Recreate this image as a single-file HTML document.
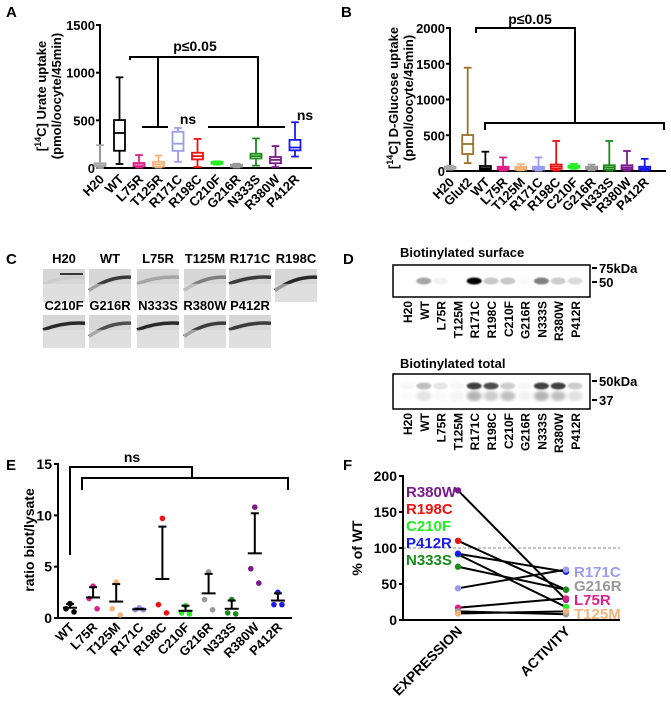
<!DOCTYPE html>
<html><head><meta charset="utf-8"><style>
html,body{margin:0;padding:0;background:#fff;}
svg{display:block;font-family:"Liberation Sans",Arial,sans-serif;font-weight:bold;}
</style></head><body>
<svg id="fig" width="671" height="707" viewBox="0 0 671 707" xmlns="http://www.w3.org/2000/svg">
<defs>
<filter id="blur1"><feGaussianBlur stdDeviation="1.6"/></filter>
<filter id="blur2"><feGaussianBlur stdDeviation="0.8"/></filter>
</defs>
</svg>
<script>
// ---------- Panel A data ----------
const aCats = ["H20","WT","L75R","T125R","R171C","R198C","C210F","G216R","N333S","R380W","P412R"];
const aMin = [0,42,5,5,65,10,35,5,25,10,120];
const aQ1  = [20,181,20,15,180,90,45,15,100,50,185];
const aMed = [30,367,45,40,255,125,55,25,125,85,215];
const aQ3  = [50,503,52,65,380,160,65,35,150,115,295];
const aMax = [240,951,136,130,420,305,70,45,310,230,480];
const aTicks = [0,500,1000,1500];
// ---------- Panel B data ----------
const bCats = ["H20","Glut2","WT","L75R","T125M","R171C","R198C","C210F","G216R","N333S","R380W","P412R"];
const bMin = [20,110,10,5,10,5,5,30,10,5,5,5];
const bQ1  = [30,238,25,20,20,20,30,45,25,20,25,20];
const bMed = [45,378,40,40,40,40,60,60,40,50,50,35];
const bQ3  = [60,503,70,60,60,60,90,75,60,80,80,60];
const bMax = [75,1445,270,190,95,190,420,100,90,420,280,170];
const bTicks = [0,500,1000,1500,2000];
// ---------- Panel D data (band intensities 0-1) ----------
const dLanes = ["H20","WT","L75R","T125M","R171C","R198C","C210F","G216R","N333S","R380W","P412R"];
const dSurface = [0.0,0.35,0.05,0.0,1.0,0.22,0.22,0.02,0.5,0.2,0.15];
const dTotalUpper = [0.03,0.25,0.1,0.03,0.75,0.7,0.2,0.03,0.75,0.75,0.2];
const dTotalLower = [0.02,0.22,0.05,0.08,0.6,0.4,0.5,0.1,0.6,0.5,0.25];
// ---------- Panel E data ----------
const eCats = ["WT","L75R","T125M","R171C","R198C","C210F","G216R","N333S","R380W","P412R"];
const ePts1 = [1.4,3.1,3.5,1.0,9.7,1.2,4.5,1.8,10.8,2.5];
const ePts2 = [0.9,1.9,0.9,0.8,1.3,0.5,1.8,0.5,4.8,1.3];
const ePts3 = [0.6,0.9,0.3,0.8,0.5,0.4,0.8,0.4,3.4,1.3];
const eMean = [1.0,2.0,1.6,0.85,3.8,0.7,2.4,0.9,6.3,1.7];
const eErrTop = [1.35,3.0,3.3,0.9,8.9,1.2,4.3,1.7,10.2,2.4];
const eTicks = [0,5,10,15];
// ---------- Panel F data ----------
const fNames = ["R380W","R198C","C210F","P412R","N333S","R171C","L75R","G216R","T125M"];
const fExpression = [180,110,91,92,74,44,17,12,9];
const fActivity = [28,42,18,67,42,70,30,8,12];
const fTicks = [0,50,100,150,200];

const colors = {"H20":"#a8a8a8","WT":"#000","L75R":"#e0208a","T125R":"#f4b37a","T125M":"#f4b37a","R171C":"#9a9cf0","R198C":"#ee1111","C210F":"#22ee22","G216R":"#999999","N333S":"#1a8a1a","R380W":"#7a1a8a","P412R":"#1a1af0","Glut2":"#a0702a"};

const svg = document.getElementById('fig');
const NS = "http://www.w3.org/2000/svg";
function el(tag, attrs, parent){
  const e=document.createElementNS(NS,tag);
  for(const k in attrs) e.setAttribute(k,attrs[k]);
  (parent||svg).appendChild(e); return e;
}
function txt(s, attrs, parent){ const t=el('text',attrs,parent); t.textContent=s; return t; }
function line(x1,y1,x2,y2,c,w,parent){ return el('line',{x1,y1,x2,y2,stroke:c||'#000','stroke-width':w||2},parent); }

function boxPanel(name, cats, mn,q1,md,q3,mx, ticks, ax){
  const g=el('g',{});
  
  
  const y=v=>ax.y0-(v/ax.vmax)*(ax.y0-ax.yTop);
  const x=i=>ax.x0+ax.dx*i;
  line(ax.x0,ax.yTop-1,ax.x0,ax.y0,'#000',2,g);
  line(ax.x0,ax.y0,ax.xEnd,ax.y0,'#000',2,g);
  ticks.forEach(t=>{
    line(ax.x0-4,y(t),ax.x0,y(t),'#000',2,g);
    const l=txt(String(t),{x:ax.x0-5,y:y(t)+5,'text-anchor':'end','font-size':13},g);
    
    
  });
  cats.forEach((c,i)=>{
    const col=colors[c]||'#000', cx=x(i), w=ax.bw;
    const b=el('g',{},g);
    
    
    line(cx,y(mx[i]),cx,y(q3[i]),col,1.8,b);
    line(cx,y(q1[i]),cx,y(mn[i]),col,1.8,b);
    line(cx-w*0.35,y(mx[i]),cx+w*0.35,y(mx[i]),col,1.8,b);
    line(cx-w*0.35,y(mn[i]),cx+w*0.35,y(mn[i]),col,1.8,b);
    const h=Math.max(y(q1[i])-y(q3[i]),2);
    el('rect',{x:cx-w/2,y:y(q3[i]),width:w,height:h,fill:'#fff',stroke:col,'stroke-width':1.8},b);
    line(cx-w/2,y(md[i]),cx+w/2,y(md[i]),col,1.8,b);
    const l=txt(c,{x:0,y:0,'text-anchor':'end','font-size':13,transform:`translate(${cx+5},${ax.y0+12}) rotate(-45)`},g);
    
    
  });
  return {g,x,y};
}

// ====== Panel A ======
txt('A',{x:6,y:17,'font-size':15});
const A=boxPanel('panel-a-urate-boxplot',aCats,aMin,aQ1,aMed,aQ3,aMax,aTicks,{x0:100,y0:168,yTop:25,vmax:1500,xEnd:312,dx:19.5,bw:11});
(function(){
  const g=A.g;
  const yl=el('text',{x:0,y:0,'font-size':13,'text-anchor':'middle',transform:'translate(46,96) rotate(-90)'},g);
  
  
  yl.innerHTML='[<tspan font-size="9" dy="-5">14</tspan><tspan dy="5">C] Urate uptake</tspan>';
  txt('(pmol/oocyte/45min)',{x:0,y:0,'font-size':13,'text-anchor':'middle',transform:'translate(61,96) rotate(-90)'},g);
  const br=el('g',{},g);
  
  
  el('polyline',{points:'130,60 130,57 258,57 258,127',fill:'none',stroke:'#000','stroke-width':2},br);
  line(158,57,158,127,'#000',2,br);
  line(142,127,168,127,'#000',2,br);
  line(208,127,285,127,'#000',2,br);
  txt('p≤0.05',{x:195,y:51,'text-anchor':'middle','font-size':14},g);
  txt('ns',{x:188,y:124,'text-anchor':'middle','font-size':14},g);
  txt('ns',{x:305,y:120,'text-anchor':'middle','font-size':14},g);
})();

// ====== Panel B ======
txt('B',{x:341,y:17,'font-size':15});
const B=boxPanel('panel-b-glucose-boxplot',bCats,bMin,bQ1,bMed,bQ3,bMax,bTicks,{x0:450,y0:171,yTop:28,vmax:2000,xEnd:666,dx:17.7,bw:11});
(function(){
  const g=B.g;
  const yl=el('text',{x:0,y:0,'font-size':13,'text-anchor':'middle',transform:'translate(398,98) rotate(-90)'},g);
  
  
  yl.innerHTML='[<tspan font-size="9" dy="-5">14</tspan><tspan dy="5">C] D-Glucose uptake</tspan>';
  txt('(pmol/oocyte/45min)',{x:0,y:0,'font-size':13,'text-anchor':'middle',transform:'translate(413,98) rotate(-90)'},g);
  const br=el('g',{},g);
  
  
  el('polyline',{points:'476,33 476,28 575,28 575,123',fill:'none',stroke:'#000','stroke-width':2},br);
  el('polyline',{points:'485,130 485,123 664,123 664,130',fill:'none',stroke:'#000','stroke-width':2},br);
  txt('p≤0.05',{x:530,y:24,'text-anchor':'middle','font-size':14},g);
})();

// ====== Panel C ======
txt('C',{x:6,y:264,'font-size':15});
const cRow1=["H20","WT","L75R","T125M","R171C","R198C"];
const cRow2=["C210F","G216R","N333S","R380W","P412R"];
const cDark=[0.05,0.8,0.25,0.45,0.8,0.9,0.9,0.7,0.9,0.8,0.8];
const cXs=[43,89,137,184,229,275];
[[cRow1,263,269],[cRow2,310,315]].forEach(([row,ly,iy],r)=>{
  row.forEach((n,i)=>{
    const g=el('g',{});
    
    
    const x0=cXs[i], w=42, h=33;
    txt(n,{x:x0+w/2,y:ly,'text-anchor':'middle','font-size':13},g);
    el('rect',{x:x0,y:iy,width:w,height:h,fill:'#d6d6d6'},g);
    const d=cDark[r*6+i];
    const yA=iy+h*(0.75-0.5*(i%2?0.2:0.6)), yB=iy+h*0.3;
    el('path',{d:`M${x0},${yA} Q${x0+w*0.5},${yB-3} ${x0+w},${iy+h*0.25}`,fill:'none',stroke:`rgba(20,20,20,${d})`,'stroke-width':3.5},g);
    el('rect',{x:x0,y:iy+h*0.45,width:w,height:h*0.55,fill:'#e4e4e4',opacity:0.6},g);
  });
});
line(60,274,83,274,'#000',1.5);

// ====== Panel D ======
txt('D',{x:343,y:264,'font-size':15});
function blot(name,title,ty,by0,by1,upper,lower,marks,labTop){
  const g=el('g',{});
  
  
  txt(title,{x:400,y:ty,'font-size':13},g);
  el('rect',{x:393,y:by0,width:197,height:by1-by0,fill:'#fff',stroke:'#000','stroke-width':1.5},g);
  const lx=i=>407+16.8*i;
  dLanes.forEach((n,i)=>{
    const v=upper[i];
    const band=el('ellipse',{cx:lx(i),cy:lower?by0+12:by0+16,rx:7.5,ry:3.5,fill:`rgba(0,0,0,${v})`,filter:'url(#blur2)'},g);
    
    
    if(lower){
      el('ellipse',{cx:lx(i),cy:by0+22,rx:7.5,ry:5,fill:`rgba(0,0,0,${lower[i]*0.5})`,filter:'url(#blur1)'},g);
    }
    const l=txt(n,{x:0,y:0,'text-anchor':'end','font-size':12,transform:`translate(${lx(i)+5},${labTop}) rotate(-90)`},g);
    
    
  });
  marks.forEach(([s,y])=>{ line(592,y,597,y,'#000',2,g); txt(s,{x:599,y:y+5,'font-size':13},g); });
}
blot('blot-surface','Biotinylated surface',257,265,297,dSurface,null,[['75kDa',268],['50',282]],301);
blot('blot-total','Biotinylated total',368,374,409,dTotalUpper,dTotalLower,[['50kDa',381],['37',400]],413);

// ====== Panel E ======
txt('E',{x:6,y:470,'font-size':15});
(function(){
  const g=el('g',{});
  
  
  const x0=58,y0=618,yTop=464,vmax=15;
  const y=v=>y0-v/vmax*(y0-yTop);
  const x=i=>70+23.1*i;
  line(x0,yTop-1,x0,y0,'#000',2,g); line(x0,y0,292,y0,'#000',2,g);
  eTicks.forEach(t=>{ line(x0-4,y(t),x0,y(t),'#000',2,g); txt(String(t),{x:x0-6,y:y(t)+5,'text-anchor':'end','font-size':14},g); });
  const yl=txt('ratio biot/lysate',{x:0,y:0,'text-anchor':'middle','font-size':14,transform:'translate(34,540) rotate(-90)'},g);
  
  
  eCats.forEach((c,i)=>{
    const col=colors[c];
    const ps=[ePts1[i],ePts2[i],ePts3[i]];
    const offs=[0,-4,4];
    ps.forEach((v,k)=>{
      const d=el('circle',{cx:x(i)+offs[k],cy:y(v),r:2.8,fill:col},g);
      
      
    });
    line(x(i)-7,y(eMean[i]),x(i)+7,y(eMean[i]),'#000',2,g);
    line(x(i),y(eMean[i]),x(i),y(eErrTop[i]),'#000',2,g);
    line(x(i)-4,y(eErrTop[i]),x(i)+4,y(eErrTop[i]),'#000',2,g);
    const l=txt(c,{x:0,y:0,'text-anchor':'end','font-size':13,transform:`translate(${x(i)+5},${y0+10}) rotate(-45)`},g);
    
    
  });
  const br=el('g',{},g);
  
  
  el('polyline',{points:'70,555 70,467 192,467 192,478',fill:'none',stroke:'#000','stroke-width':2},br);
  el('polyline',{points:'82,490 82,478 288,478 288,490',fill:'none',stroke:'#000','stroke-width':2},br);
  txt('ns',{x:132,y:462,'text-anchor':'middle','font-size':14},g);
})();

// ====== Panel F ======
txt('F',{x:343,y:470,'font-size':15});
(function(){
  const g=el('g',{});
  
  
  const x0=403,y0=620,yTop=476,vmax=200,xE=458,xA=566;
  const y=v=>y0-v/vmax*(y0-yTop);
  el('line',{x1:x0,y1:y(100),x2:620,y2:y(100),stroke:'#888','stroke-width':1,'stroke-dasharray':'3,2'},g);
  line(x0,yTop-1,x0,y0,'#000',2,g); line(x0,y0,620,y0,'#000',2,g);
  fTicks.forEach(t=>{ line(x0-4,y(t),x0,y(t),'#000',2,g); txt(String(t),{x:x0-6,y:y(t)+5,'text-anchor':'end','font-size':14},g); });
  const yl=txt('% of WT',{x:0,y:0,'text-anchor':'middle','font-size':14,transform:'translate(362,548) rotate(-90)'},g);
  
  
  fNames.forEach((n,i)=>{
    const l=line(xE,y(fExpression[i]),xA,y(fActivity[i]),'#000',2,g);
    
    
  });
  fNames.forEach((n,i)=>{
    el('circle',{cx:xE,cy:y(fExpression[i]),r:3.2,fill:colors[n]},g);
    el('circle',{cx:xA,cy:y(fActivity[i]),r:3.2,fill:colors[n]},g);
  });
  [['R380W',497],['R198C',514],['C210F',531],['P412R',548],['N333S',565]].forEach(([n,yy])=>{
    const t=txt(n,{x:406,y:yy,'font-size':15,fill:colors[n]},g);
    
    
  });
  [['R171C',577],['G216R',591],['L75R',605],['T125M',619]].forEach(([n,yy])=>{
    const t=txt(n,{x:574,y:yy,'font-size':15,fill:colors[n]},g);
    
    
  });
  txt('EXPRESSION',{x:0,y:0,'text-anchor':'end','font-size':14,transform:`translate(${xE+5},${y0+12}) rotate(-45)`},g);
  txt('ACTIVITY',{x:0,y:0,'text-anchor':'end','font-size':14,transform:`translate(${xA+5},${y0+12}) rotate(-45)`},g);
})();
</script>
</body></html>
